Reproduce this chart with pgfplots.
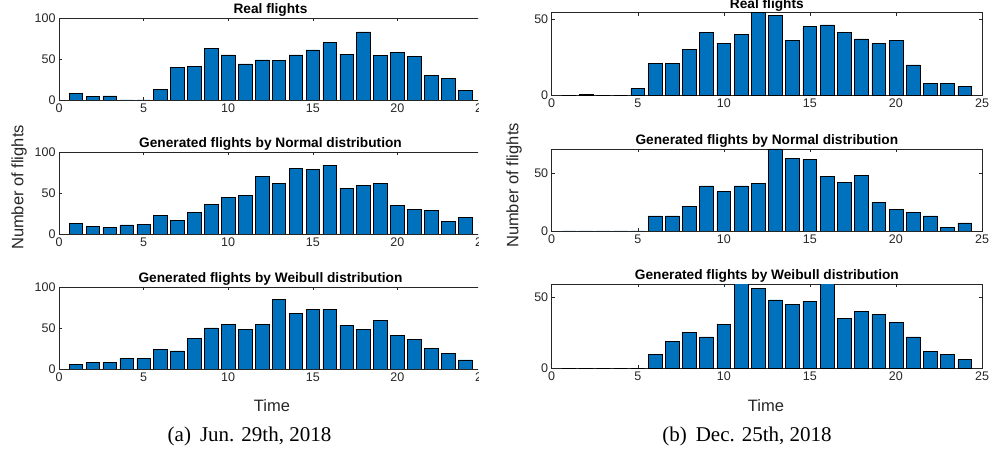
\documentclass[border=0pt]{standalone}
\usepackage{pgfplots}
\pgfplotsset{compat=1.18}
\usepackage{pgfplotstable}
\usepackage{fontspec}
\setmainfont{Liberation Sans}
\newfontfamily\timesfont{Liberation Serif}
\definecolor{matblue}{RGB}{0,114,189}
\definecolor{axgray}{RGB}{38,38,38}

\pgfplotstableread{
x realA normA weibA realB normB weibB
1  8  13  6   0  0  0
2  4  9   8   1  0  0
3  5  8   8   0  0  0
4  0  11  13  0  0  0
5  0  12  13  5  0  0
6  13 23  24  21 13 10
7  40 17  22  21 13 19
8  41 26  37  30 21 25
9  63 36  50  41 39 22
10 55 45  54  34 34 31
11 44 47  48  40 39 60
12 49 70  54  54 41 56
13 48 62  85  52 71 48
14 55 80  68  36 63 45
15 61 79  73  45 62 47
16 70 84  73  46 47 60
17 56 56  53  41 42 35
18 83 59  48  37 48 40
19 54 62  59  34 25 38
20 58 35  41  36 19 32
21 53 30  36  20 16 22
22 30 29  25  8  13 12
23 26 15  19  8  3  10
24 12 20  11  6  7  6
}\flights

\pgfplotsset{
  mybar/.style={
    scale only axis, ybar, bar width=0.8,
    xmin=0, xmax=25, xtick={0,5,...,25}, ymin=0,
    tick align=inside, major tick length=3pt,
    axis line style={draw=axgray, line width=0.5pt},
    tick style={draw=axgray, line width=0.5pt},
    ticklabel style={font=\fontsize{12.5}{13}\selectfont, text=axgray},
    /pgf/number format/assume math mode=true,
    title style={font=\bfseries\fontsize{13.7}{15}\selectfont, at={(0.5,1)}, anchor=base, yshift=-1.5pt, inner sep=0pt},
  },
  barst/.style={fill=matblue, draw=black, line width=0.6pt},
}

\begin{document}
\begin{tikzpicture}
\clip (0pt,0pt) rectangle (989pt,449pt);
% ---------- left panel ----------
\begin{scope}
\clip (0pt,0pt) rectangle (478pt,449pt);
\begin{axis}[mybar, at={(59pt,349pt)}, anchor=south west, width=423pt, height=82pt,
  ymax=100, ytick={0,50,100}, title={Real flights}]
\addplot[barst] table[x=x,y=realA]{\flights};
\end{axis}
\begin{axis}[mybar, at={(59pt,215pt)}, anchor=south west, width=423pt, height=82pt,
  ymax=100, ytick={0,50,100}, title={Generated flights by Normal distribution}]
\addplot[barst] table[x=x,y=normA]{\flights};
\end{axis}
\begin{axis}[mybar, at={(59pt,80pt)}, anchor=south west, width=423pt, height=82pt,
  ymax=100, ytick={0,50,100}, title={Generated flights by Weibull distribution}]
\addplot[barst] table[x=x,y=weibA]{\flights};
\end{axis}
\end{scope}
\node[rotate=90, font=\fontsize{16.5}{18}\selectfont, text=axgray] at (19pt,261.5pt) {Number of flights};
\node[anchor=base, font=\fontsize{16.5}{18}\selectfont, text=axgray] at (272pt,37pt) {Time};
\node[anchor=base, font=\timesfont\fontsize{21}{23}\selectfont] at (249.5pt,7.3pt) {(a)\hspace{9pt}Jun. 29th, 2018};
% ---------- right panel ----------
\begin{axis}[mybar, at={(551.7pt,353.3pt)}, anchor=south west, width=430.3pt, height=83pt,
  ymax=54, ytick={0,50}, title={Real flights}]
\addplot[barst] table[x=x,y=realB]{\flights};
\end{axis}
\begin{axis}[mybar, at={(551.7pt,218pt)}, anchor=south west, width=430.3pt, height=82pt,
  ymax=71, ytick={0,50}, title={Generated flights by Normal distribution}]
\addplot[barst] table[x=x,y=normB]{\flights};
\end{axis}
\begin{axis}[mybar, at={(551.7pt,80.7pt)}, anchor=south west, width=430.3pt, height=84pt,
  ymax=59, ytick={0,50}, title={Generated flights by Weibull distribution}]
\addplot[barst] table[x=x,y=weibB]{\flights};
\end{axis}
\node[rotate=90, font=\fontsize{16.5}{18}\selectfont, text=axgray] at (514pt,263.5pt) {Number of flights};
\node[anchor=base, font=\fontsize{16.5}{18}\selectfont, text=axgray] at (766pt,37pt) {Time};
\node[anchor=base, font=\timesfont\fontsize{21}{23}\selectfont] at (747pt,7.3pt) {(b)\hspace{9pt}Dec. 25th, 2018};
\end{tikzpicture}
\end{document}
